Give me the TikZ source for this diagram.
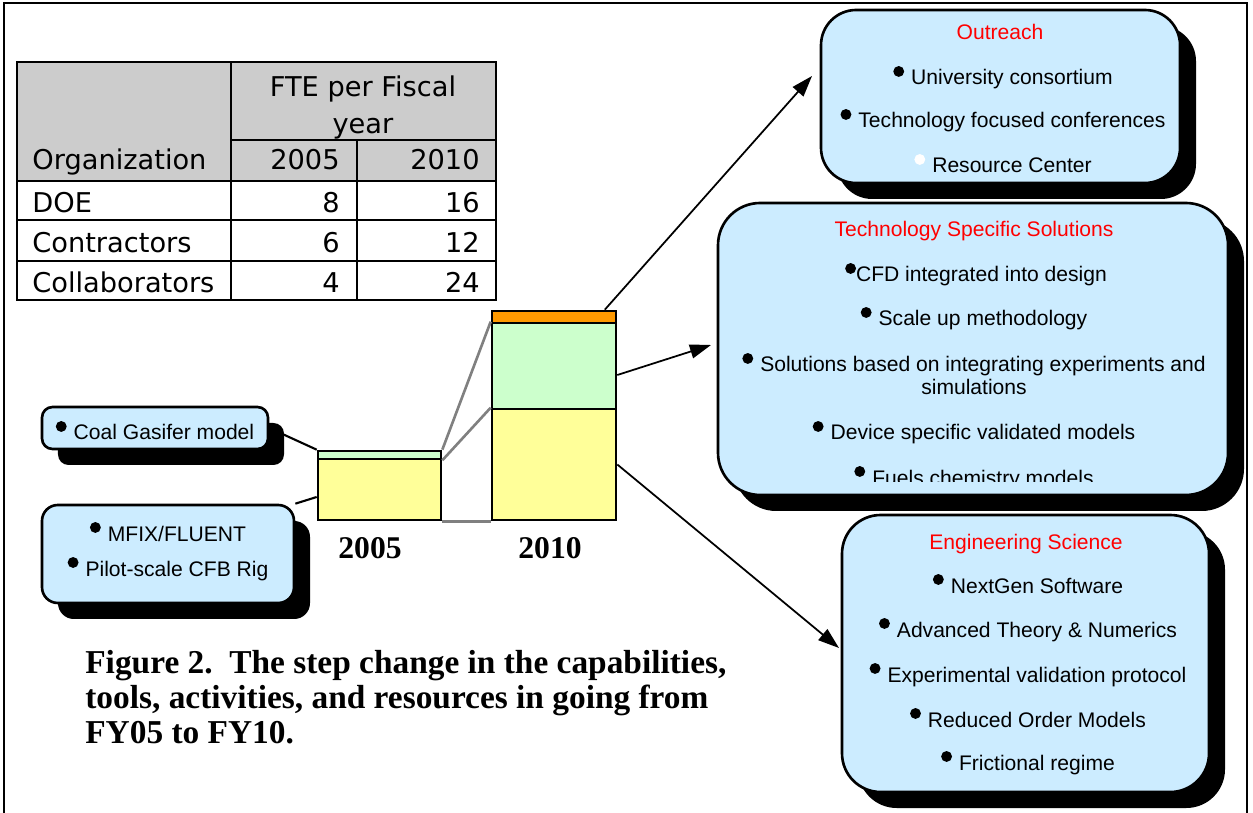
\documentclass[tikz,border=0pt]{standalone}
\usepackage{fontspec}
\setmainfont{Liberation Sans}
\newfontfamily\tabfont{DejaVu Sans}
\newfontfamily\capfont{Liberation Serif}
\usetikzlibrary{arrows.meta,fit,shadows}

\pgfdeclarelayer{background}
\pgfsetlayers{background,main}

\definecolor{boxblue}{RGB}{204,236,255}
\definecolor{baryellow}{RGB}{255,255,153}
\definecolor{bargreen}{RGB}{204,255,204}
\definecolor{barorange}{RGB}{255,153,0}
\definecolor{headgray}{RGB}{204,204,204}

\newcommand{\dotmark}[1]{\raisebox{4.6pt}{\tikz\fill[#1] (0,0) circle (3.1pt);}}
\newcommand{\bul}{\dotmark{black}\hspace{4pt}}
\newcommand{\wbul}{\dotmark{white}\hspace{4pt}}

\tikzset{
  box/.style={draw=black, line width=1.5pt, fill=boxblue, rounded corners=#1, inner sep=0pt,
    drop shadow={shadow xshift=0.32cm, shadow yshift=-0.32cm, fill=black, opacity=1}},
  box/.default=20pt,
  bar/.style={draw=black, line width=1.5pt, inner sep=0pt},
  item/.style={anchor=base, inner sep=0pt, font=\fontsize{12}{14}\selectfont},
  head/.style={item, text=red},
  cell/.style={anchor=base, inner sep=0pt, font=\tabfont\fontsize{15.5}{18}\selectfont},
  link/.style={line width=1.2pt},
  arr/.style={line width=1pt, -{Triangle[length=12pt,width=8pt]}},
  bridge/.style={draw=gray, line width=1.5pt},
  year/.style={anchor=base, inner sep=0pt, font=\capfont\bfseries\fontsize{18}{20}\selectfont}
}

\begin{document}
\begin{tikzpicture}[x=0.02cm,y=-0.02cm]
\useasboundingbox (0,0) rectangle (1253,813);

% Frame
\draw[line width=1.5pt] (4,813) -- (4,3) -- (1247,3) -- (1247,813);

% Table
\fill[headgray] (17,62) rectangle (496,181);
\draw[line width=1.1pt] (17,62) rectangle (496,300);
\draw[line width=1.1pt] (231,62) -- (231,300)
  (357,140) -- (357,300)
  (231,140) -- (496,140)
  (17,181) -- (496,181)
  (17,220) -- (496,220)
  (17,261) -- (496,261);
\node[cell] (fte) at (363,97) {FTE per Fiscal};
\node[cell] (fy) at (363,134) {year};
\node[cell, anchor=base west] (org) at (32,170) {Organization};
\node[cell, anchor=base east] (h05) at (340,170) {2005};
\node[cell, anchor=base east] (h10) at (480,170) {2010};
\foreach \who/\a/\b/\y in {DOE/8/16/213, Contractors/6/12/253, Collaborators/4/24/293}{
  \node[cell, anchor=base west] (w\y) at (32,\y) {\who};
  \node[cell, anchor=base east] (a\y) at (340,\y) {\a};
  \node[cell, anchor=base east] (b\y) at (480,\y) {\b};
}

% Bars
\node[bar, fill=baryellow, fit={(318,459) (441,520)}] (y05) {};
\node[bar, fill=bargreen, fit={(318,451) (441,459)}] (g05) {};
\node[bar, fill=baryellow, fit={(492,409) (616,520)}] (y10) {};
\node[bar, fill=bargreen, fit={(492,323) (616,409)}] (g10) {};
\node[bar, fill=barorange, fit={(492,311) (616,323)}] (o10) {};
\draw[bridge] (g05.north east) -- (g10.north west);
\draw[bridge] (g05.south east) -- (y10.north west);
\draw[bridge] (y05.south east) -- (y10.south west);
\node[year] (l05) at (370,558) {2005};
\node[year] (l10) at (550,558) {2010};

% Left boxes
\node[box=6pt, fit={(42,407) (268,449)}] (coal) {};
\node[item] (coalt) at (155,440) {\bul Coal Gasifer model};
\node[box=9pt, fit={(42,505) (294,603)}] (mfix) {};
\node[item] (mfixt) at (168,541) {\bul MFIX/FLUENT};
\node[item] (pilot) at (168,576) {\bul Pilot-scale CFB Rig};
\begin{pgfonlayer}{background}
\draw[link] (coal.east) -- (g05.north west);
\draw[link] (mfix.north east) -- ([yshift=-0.15cm]y05.west);
\end{pgfonlayer}

% Outreach
\node[box, fit={(821,10) (1180,183)}] (out) {};
\node[head] (outh) at (1000,40) {Outreach};
\node[item] (o1) at (1003,85) {\bul University consortium};
\node[item] (o2) at (1003,128) {\bul Technology focused conferences};
\node[item] (o3) at (1003,173) {\wbul Resource Center};

% Technology specific solutions
\node[box=24pt, fit={(718,203) (1228,495)}] (tss) {};
\node[head] (tssh) at (974,237) {Technology Specific Solutions};
\node[item] (s1) at (976,282) {\dotmark{black}CFD integrated into design};
\node[item] (s2) at (974,326) {\bul Scale up methodology};
\node[item] (s3) at (974,372) {\bul Solutions based on integrating experiments and};
\node[item] (s3b) at (974,395) {simulations};
\node[item] (s4) at (974,440) {\bul Device specific validated models};
\begin{scope}
\clip (720,300) rectangle (1226,482);
\node[item] (s5) at (974,485) {\bul Fuels chemistry models};
\end{scope}

% Engineering science
\node[box=22pt, fit={(842,515) (1209,792)}] (eng) {};
\node[head] (engh) at (1026,549) {Engineering Science};
\node[item] (e1) at (1028,593) {\bul NextGen Software};
\node[item] (e2) at (1028,637) {\bul Advanced Theory \& Numerics};
\node[item] (e3) at (1028,682) {\bul Experimental validation protocol};
\node[item] (e4) at (1028,727) {\bul Reduced Order Models};
\node[item] (e5) at (1028,770) {\bul Frictional regime};

% Arrows
\coordinate (t1) at (812,76);
\coordinate (t2) at (711,345);
\coordinate (t3) at (839,648);
\draw[arr] ([xshift=-0.25cm]o10.north east) -- (t1);
\draw[arr] ([yshift=-0.18cm]g10.east) -- (t2);
\draw[arr] (y10.east) -- (t3);

% Caption
\node[anchor=north west, align=left, inner sep=0pt,
  font=\capfont\bfseries\fontsize{19}{19.8}\selectfont] (cap) at (85,650)
  {Figure 2.\ \ The step change in the capabilities,\\
   tools, activities, and resources in going from\\
   FY05 to FY10.};

\end{tikzpicture}
\end{document}
